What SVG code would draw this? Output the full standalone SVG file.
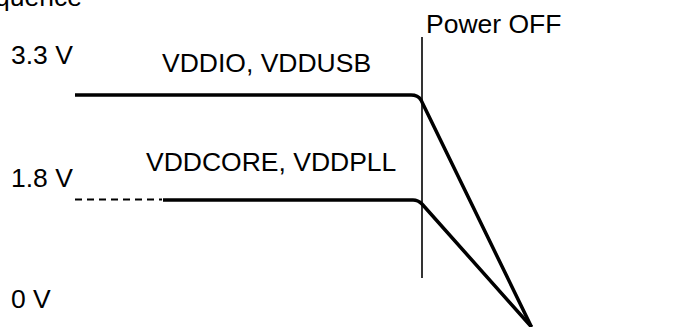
<svg xmlns="http://www.w3.org/2000/svg" width="693" height="327" viewBox="0 0 693 327">
<style>
text{font-family:"Liberation Sans",Arial,sans-serif;font-size:26.5px;fill:#000}
.rail{fill:none;stroke:#000;stroke-width:3.5;stroke-linejoin:round;stroke-linecap:butt}
.dash{fill:none;stroke:#000;stroke-width:2;stroke-dasharray:7 5}
.mark{fill:none;stroke:#000;stroke-width:1.6}
</style>
<rect width="693" height="327" fill="#fff"/>
<g id="title"><text x="-5" y="6">quence</text></g>
<g id="axis-labels">
<text x="11" y="64">3.3 V</text>
<text x="11" y="187">1.8 V</text>
<text x="11" y="308">0 V</text>
</g>
<g id="power-off">
<line class="mark" x1="422" y1="37" x2="422" y2="278"/>
<text x="426" y="33">Power OFF</text>
</g>
<g id="vddio">
<text x="162" y="72">VDDIO, VDDUSB</text>
</g>
<g id="vddcore">
<text x="146" y="171">VDDCORE, VDDPLL</text>
</g>
<g id="connectors">
<path class="rail" d="M75,95 H411 Q418,95 421,100 L531.5,327"/>
<line class="dash" x1="75" y1="199.5" x2="162" y2="199.5"/>
<path class="rail" d="M163,200 H413 Q418,200 422,204 L531.5,327"/>
</g>
</svg>
